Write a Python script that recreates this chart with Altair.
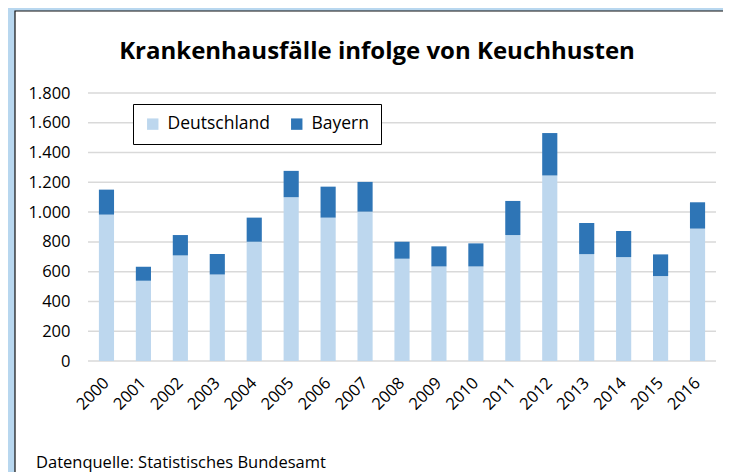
import altair as alt
import pandas as pd

years = [str(y) for y in range(2000, 2017)]
deutschland = [983, 539, 709, 581, 801, 1100, 963, 1003, 687, 635, 635, 846, 1246, 718, 698, 570, 889]
bayern = [168, 94, 137, 137, 162, 177, 208, 200, 114, 135, 155, 229, 285, 209, 175, 146, 177]
series = ["Deutschland", "Bayern"]
colors = ["#bdd7ee", "#2e75b6"]
y_ticks = [0, 200, 400, 600, 800, 1000, 1200, 1400, 1600, 1800]
title_text = "Krankenhausfälle infolge von Keuchhusten"
source_text = "Datenquelle: Statistisches Bundesamt"

rows = []
for i, yr in enumerate(years):
    rows.append({"Jahr": yr, "Reihe": series[0], "Wert": deutschland[i], "ord": 0})
    rows.append({"Jahr": yr, "Reihe": series[1], "Wert": bayern[i], "ord": 1})
df = pd.DataFrame(rows)
grid_df = pd.DataFrame({"Wert": y_ticks})

W, H = 628, 268
PL, PT = 80, 85
CW, CH = 715, 464
FONT = "Open Sans"

y_scale = alt.Scale(domain=[0, 1800], nice=False)
y_axis = alt.Axis(
    title=None, values=y_ticks,
    labelExpr="replace(format(datum.value, ','), ',', '.')",
    grid=False, domain=False, ticks=False, labelFontSize=16.5, labelFont=FONT,
    labelColor="black", labelPadding=18, zindex=2,
)

panel = alt.Chart(alt.Data(values=[{}])).mark_rect(
    fill="white", stroke="#111111", strokeWidth=1.2
).encode(
    x=alt.value(-73), x2=alt.value(W + 60), y=alt.value(-82), y2=alt.value(H + 160)
)

grid = alt.Chart(grid_df).mark_rule(color="#d9d9d9", strokeWidth=1.5).encode(
    y=alt.Y("Wert:Q", scale=y_scale, axis=y_axis),
    x=alt.value(0), x2=alt.value(W),
)

bars = alt.Chart(df).mark_bar().encode(
    x=alt.X(
        "Jahr:N", sort=years,
        scale=alt.Scale(paddingInner=0.59, paddingOuter=0.295),
        axis=alt.Axis(
            title=None, labelAngle=-45, labelAlign="right", labelBaseline="middle",
            labelFontSize=16.5, labelFont=FONT, labelColor="black",
            domain=False, ticks=False, labelPadding=19, grid=False, zindex=2,
        ),
    ),
    y=alt.Y("Wert:Q", stack="zero", scale=y_scale, axis=y_axis),
    color=alt.Color(
        "Reihe:N",
        scale=alt.Scale(domain=series, range=colors),
        legend=alt.Legend(
            title=None, orient="none", legendX=45, legendY=11,
            direction="horizontal", symbolType="square", symbolSize=130,
            symbolStrokeWidth=0, labelFontSize=17.5, labelFont=FONT,
            labelColor="black", columnPadding=17, labelOffset=6, padding=11,
            strokeColor="black", fillColor="white",
        ),
    ),
    order=alt.Order("ord:Q", sort="ascending"),
)

title = alt.Chart(alt.Data(values=[{}])).mark_text(
    text=title_text, font=FONT, fontSize=24, fontWeight="bold",
    align="center", baseline="alphabetic", color="black",
).encode(x=alt.value(289), y=alt.value(-34))

source = alt.Chart(alt.Data(values=[{}])).mark_text(
    text=source_text, font=FONT, fontSize=16.5,
    align="left", baseline="alphabetic", color="black",
).encode(x=alt.value(-52), y=alt.value(375))

chart = alt.layer(panel, grid, bars, title, source).properties(
    width=W, height=H,
    padding={"left": PL, "top": PT, "right": CW - PL - W, "bottom": CH - PT - H},
    autosize=alt.AutoSizeParams(type="none"),
    background="#b8d7ef",
).configure_view(stroke=None)

chart.save("out.html", embed_options={"renderer": "svg", "actions": False})
